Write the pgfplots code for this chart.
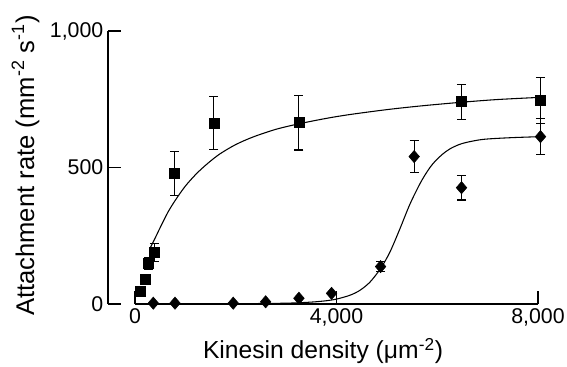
\documentclass[border=0pt]{standalone}
\usepackage{fontspec}
\setmainfont{Liberation Sans}
\usepackage{pgfplots}
\pgfplotsset{compat=1.18}
\begin{document}
\begin{tikzpicture}
\path[use as bounding box] (-81pt,-47.25pt) rectangle (344.25pt,228pt);
\begin{axis}[
  at={(0pt,0pt)}, anchor=south west,
  scale only axis, width=322.5pt, height=204.75pt,
  xmin=-536, xmax=8000, ymin=0, ymax=1000,
  axis line style={draw=none},
  clip=false,
  tick align=inside,
  major tick length=10pt,
  tick style={black, line width=0.9pt},
  xtick pos=bottom, ytick pos=left,
  xtick={0,4000,8000}, xticklabels={0,{4,000},{8,000}},
  ytick={0,500,1000}, yticklabels={0,500,{1,000}},
  ticklabel style={font=\fontsize{16}{19}\selectfont},
  xlabel={Kinesin density (μm\textsuperscript{-2})},
  ylabel={Attachment rate (mm\textsuperscript{-2} s\textsuperscript{-1})},
  xlabel style={font=\fontsize{18.5}{22}\selectfont, at={(axis description cs:0.5,-0.2)}, anchor=base},
  ylabel style={font=\fontsize{19.2}{23}\selectfont, at={(axis description cs:-0.172,0.507)}, anchor=base},
]
\draw[line width=1pt] (axis cs:-536,0) -- (axis cs:-536,1000);
\draw[line width=1pt] (axis cs:0,0) -- (axis cs:8000,0);

% fitted curve, squares
\addplot[smooth, tension=0.5, line width=0.8pt, no markers] coordinates {
(300,205) (383,235) (500,280) (650,335) (800,380) (1000,432) (1224,478) (1450,516)
(1687,550) (2000,584) (2347,612) (2800,640) (3254,660) (3800,680) (4266,694)
(5000,712) (5700,726) (6482,739) (7200,749) (8050,757)};
% fitted curve, diamonds
\addplot[smooth, tension=0.5, line width=0.8pt, no markers] coordinates {
(0,0) (1000,0) (2000,1) (3000,3) (3500,7) (3800,12) (4000,18) (4266,32) (4464,50) (4663,80)
(4875,130) (5060,190) (5258,275) (5456,365) (5655,440) (5800,485) (5919,515) (6100,548)
(6250,568) (6420,583) (6581,592) (6911,603) (7440,609) (8050,613)};

% squares
\addplot[only marks, mark=square*, mark size=3.75pt, black,
  error bars/.cd, y dir=both, y explicit,
  error bar style={line width=0.8pt},
  error mark options={rotate=90, mark size=3.4pt, line width=0.8pt}]
  table[x=x, y=y, y error=e] {
x y e
99 45 10
198 90 15
264 149 22
383 188 32
780 479 80
1567 662 97
3254 664 100
6482 741 64
8050 745 85
};
% diamonds without visible error bars
\addplot[only marks, mark=diamond*, mark size=4.6pt, black, mark options={xscale=1.15}]
  table[x=x, y=y] {
x y
363 3
794 3
1950 3
2593 8
3254 21
3902 39
};
% diamonds with error bars
\addplot[only marks, mark=diamond*, mark size=4.6pt, black, mark options={xscale=1.15},
  error bars/.cd, y dir=both, y explicit,
  error bar style={line width=0.8pt},
  error mark options={rotate=90, mark size=3.4pt, line width=0.8pt}]
  table[x=x, y=y, y error=e] {
x y e
4875 137 18
5542 540 60
6482 426 45
8050 613 65
};
\end{axis}
\end{tikzpicture}
\end{document}
